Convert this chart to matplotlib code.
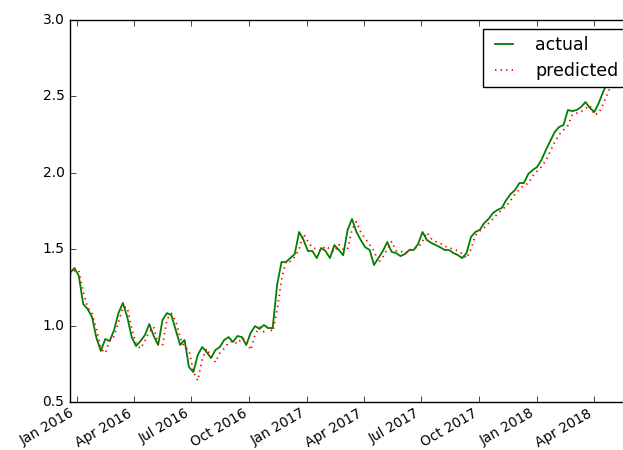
import pandas as pd
import matplotlib
matplotlib.use('Agg')
import matplotlib.pyplot as plt
import matplotlib.dates as mdates

# weekly samples, first one on 21 Dec 2015
start = '2015-12-21'
actual = [1.344, 1.377, 1.325, 1.141, 1.109, 1.056, 0.919, 0.834, 0.912, 0.899,
          0.971, 1.082, 1.148, 1.056, 0.925, 0.866, 0.899, 0.938, 1.010, 0.932,
          0.873, 1.037, 1.082, 1.069, 0.971, 0.873, 0.906, 0.729, 0.696, 0.808,
          0.860, 0.827, 0.788, 0.840, 0.860, 0.906, 0.925, 0.893, 0.932, 0.925,
          0.873, 0.952, 0.997, 0.978, 1.004, 0.984, 0.984, 1.266, 1.416, 1.416,
          1.442, 1.468, 1.613, 1.560, 1.488, 1.488, 1.442, 1.508, 1.488, 1.442,
          1.527, 1.495, 1.460, 1.626, 1.698, 1.613, 1.560, 1.513, 1.495, 1.397,
          1.442, 1.488, 1.547, 1.482, 1.475, 1.455, 1.468, 1.495, 1.495, 1.534,
          1.613, 1.560, 1.541, 1.527, 1.513, 1.495, 1.495, 1.475, 1.462, 1.442,
          1.475, 1.580, 1.613, 1.626, 1.671, 1.698, 1.737, 1.757, 1.770, 1.822,
          1.861, 1.887, 1.933, 1.933, 1.992, 2.018, 2.038, 2.084, 2.149, 2.208,
          2.267, 2.300, 2.313, 2.411, 2.404, 2.411, 2.431, 2.463, 2.424, 2.398,
          2.457, 2.529, 2.594, 2.620, 2.640, 2.650, 2.660, 2.670, 2.680]
predicted = [1.33, 1.36, 1.36, 1.22, 1.12, 1.08, 0.98, 0.85, 0.82, 0.90,
             0.93, 1.02, 1.12, 1.12, 0.98, 0.88, 0.85, 0.90, 0.96, 0.99,
             0.88, 0.87, 1.04, 1.08, 1.03, 0.92, 0.86, 0.84, 0.70, 0.64,
             0.78, 0.85, 0.80, 0.76, 0.82, 0.85, 0.89, 0.90, 0.88, 0.92,
             0.90, 0.84, 0.94, 0.99, 0.96, 0.99, 0.96, 1.10, 1.30, 1.42,
             1.42, 1.45, 1.50, 1.60, 1.55, 1.51, 1.50, 1.49, 1.52, 1.50,
             1.48, 1.53, 1.50, 1.50, 1.63, 1.68, 1.61, 1.57, 1.53, 1.49,
             1.41, 1.45, 1.50, 1.55, 1.49, 1.49, 1.47, 1.49, 1.51, 1.51,
             1.55, 1.61, 1.57, 1.55, 1.54, 1.52, 1.51, 1.50, 1.49, 1.47,
             1.44, 1.50, 1.59, 1.62, 1.64, 1.67, 1.70, 1.73, 1.76, 1.78,
             1.82, 1.86, 1.89, 1.92, 1.93, 1.98, 2.01, 2.04, 2.08, 2.14,
             2.20, 2.25, 2.28, 2.31, 2.38, 2.39, 2.40, 2.42, 2.44, 2.38,
             2.39, 2.45, 2.52, 2.58, 2.61, 2.63, 2.65, 2.66, 2.67]
dates = pd.date_range(start, periods=len(actual), freq='7D')

plt.style.use('classic')
plt.rcParams['font.size'] = 10

fig = plt.figure(figsize=(6.23, 4.5), dpi=100)
fig.patch.set_facecolor('white')
# axes run a little past the right edge, as in the cropped original
ax = fig.add_axes([70 / 623, 48 / 450, 564 / 623, 382 / 450])

ax.plot(dates, actual, color='g', lw=1.3, label='actual')
ax.plot(dates, predicted, color='r', ls=':', lw=1.3, label='predicted')

ax.set_xlim(dates[0], dates[-1])
ax.set_ylim(0.5, 3.0)
ax.set_yticks([0.5, 1.0, 1.5, 2.0, 2.5, 3.0])
ax.xaxis.set_major_locator(mdates.MonthLocator(bymonth=[1, 4, 7, 10]))
ax.xaxis.set_major_formatter(mdates.DateFormatter('%b %Y'))
ax.tick_params(axis='x', pad=3, labelsize=9.8)
for lab in ax.get_xticklabels():
    lab.set_rotation(30)
    lab.set_ha('right')

ax.legend(loc='upper right', fontsize=12.5, handlelength=1.6, handletextpad=1.0)

fig.savefig('out.png', dpi=100, facecolor='white')
